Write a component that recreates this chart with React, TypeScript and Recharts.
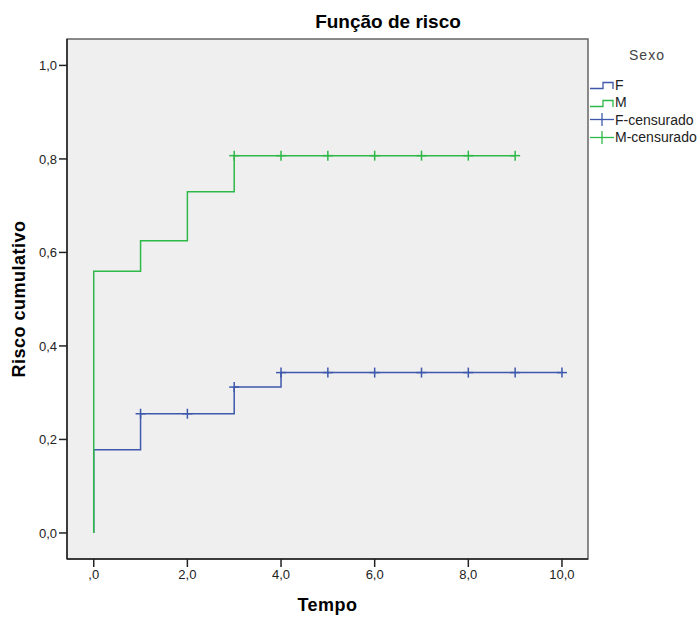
import {
  ComposedChart,
  Legend,
  Line,
  ReferenceArea,
  Scatter,
  XAxis,
  YAxis,
} from "recharts";

const FONT = "'Liberation Sans', Arial, sans-serif";
const BLUE = "#3e58ac";
const GREEN = "#2eb848";

// cumulative hazard, step points (time, risk)
const fTimes = [0, 0, 1, 3, 4, 10];
const fRisk = [0, 0.178, 0.255, 0.312, 0.343, 0.343];
const mTimes = [0, 0, 1, 2, 3, 9];
const mRisk = [0, 0.56, 0.625, 0.73, 0.807, 0.807];

// censored observations
const fCensTimes = [1, 2, 3, 4, 5, 6, 7, 8, 9, 10];
const fCensRisk = [0.255, 0.255, 0.312, 0.343, 0.343, 0.343, 0.343, 0.343, 0.343, 0.343];
const mCensTimes = [3, 4, 5, 6, 7, 8, 9];
const mCensRisk = [0.807, 0.807, 0.807, 0.807, 0.807, 0.807, 0.807];

const xTicks = [0, 2, 4, 6, 8, 10];
const yTicks = [0, 0.2, 0.4, 0.6, 0.8, 1.0];
const X_DOMAIN: [number, number] = [-0.571, 10.556];
const Y_DOMAIN: [number, number] = [-0.0557, 1.0565];

const legendItems = [
  { name: "F", color: BLUE, kind: "step" },
  { name: "M", color: GREEN, kind: "step" },
  { name: "F-censurado", color: BLUE, kind: "cross" },
  { name: "M-censurado", color: GREEN, kind: "cross" },
];

const toPoints = (ts: number[], vs: number[]) => ts.map((t, i) => ({ t, v: vs[i] }));

const fLine = toPoints(fTimes, fRisk);
const mLine = toPoints(mTimes, mRisk);
const fCens = toPoints(fCensTimes, fCensRisk);
const mCens = toPoints(mCensTimes, mCensRisk);

const fmtX = (v: number) => (v === 0 ? ",0" : v.toFixed(1).replace(".", ","));
const fmtY = (v: number) => v.toFixed(1).replace(".", ",");

const cross = (color: string) => (props: any) => {
  const { cx, cy } = props;
  return (
    <g stroke={color} strokeWidth={1.5}>
      <line x1={cx - 5} x2={cx + 5} y1={cy} y2={cy} />
      <line x1={cx} x2={cx} y1={cy - 5} y2={cy + 5} />
    </g>
  );
};

function YTitle(props: any) {
  const { viewBox } = props;
  const y = viewBox.y + viewBox.height / 2;
  return (
    <text
      x={19}
      y={y}
      transform={`rotate(-90, 19, ${y})`}
      textAnchor="middle"
      dominantBaseline="central"
      fontFamily={FONT}
      fontWeight="bold"
      fontSize={18}
      letterSpacing={0.5}
      fill="#000"
    >
      Risco cumulativo
    </text>
  );
}

function SexoLegend() {
  return (
    <div style={{ fontFamily: FONT, color: "#222", position: "relative", height: 110 }}>
      <div
        style={{
          textAlign: "center",
          fontSize: 14,
          color: "#444",
          letterSpacing: 1,
          lineHeight: "18px",
          marginLeft: 6,
        }}
      >
        Sexo
      </div>
      {legendItems.map((item, i) => (
        <div
          key={item.name}
          style={{
            position: "absolute",
            left: 2,
            top: 30 + i * 17.5,
            height: 17,
            display: "flex",
            alignItems: "center",
            fontSize: 14,
            whiteSpace: "nowrap",
          }}
        >
          <svg width={25} height={17} style={{ display: "block" }}>
            {item.kind === "step" ? (
              <path
                d="M0,12.5 H13 V6.5 H23 V13"
                fill="none"
                stroke={item.color}
                strokeWidth={1.3}
              />
            ) : (
              <g stroke={item.color} strokeWidth={1.3}>
                <line x1={0} x2={24} y1={8.5} y2={8.5} />
                <line x1={12} x2={12} y1={2} y2={15} />
              </g>
            )}
          </svg>
          <span>{item.name}</span>
        </div>
      ))}
    </div>
  );
}

export default function App() {
  return (
    <div style={{ position: "absolute", left: 0, top: 0, width: 700, height: 618, background: "#fff" }}>
      <div
        style={{
          position: "absolute",
          left: 0,
          width: 776,
          top: 11,
          textAlign: "center",
          fontFamily: FONT,
          fontWeight: "bold",
          fontSize: 19,
          lineHeight: "22px",
        }}
      >
        Função de risco
      </div>
      <ComposedChart
        width={700}
        height={618}
        margin={{ top: 39, right: 112, bottom: 29, left: 7 }}
      >
        <XAxis
          type="number"
          dataKey="t"
          domain={X_DOMAIN}
          ticks={xTicks}
          tickFormatter={fmtX}
          allowDataOverflow
          height={30}
          tickSize={8}
          tickMargin={3}
          stroke="#222"
          strokeWidth={1.5}
          tick={{ fontSize: 13, fill: "#222", fontFamily: FONT }}
          label={{
            value: "Tempo",
            position: "bottom",
            offset: 9,
            style: {
              fontFamily: FONT,
              fontWeight: "bold",
              fontSize: 18,
              letterSpacing: 0.5,
              fill: "#000",
            },
          }}
        />
        <YAxis
          type="number"
          dataKey="v"
          domain={Y_DOMAIN}
          ticks={yTicks}
          tickFormatter={fmtY}
          allowDataOverflow
          width={60}
          tickSize={8}
          tickMargin={2}
          stroke="#222"
          strokeWidth={1.5}
          tick={{ fontSize: 13, fill: "#222", fontFamily: FONT }}
          label={<YTitle />}
        />
        <ReferenceArea
          x1={X_DOMAIN[0]}
          x2={X_DOMAIN[1]}
          y1={Y_DOMAIN[0]}
          y2={Y_DOMAIN[1]}
          fill="#efefef"
          fillOpacity={1}
          stroke="#666"
          strokeWidth={1.5}
        />
        <Line
          data={fLine}
          dataKey="v"
          type="stepAfter"
          stroke={BLUE}
          strokeWidth={1.5}
          dot={false}
          isAnimationActive={false}
        />
        <Line
          data={mLine}
          dataKey="v"
          type="stepAfter"
          stroke={GREEN}
          strokeWidth={1.5}
          dot={false}
          isAnimationActive={false}
        />
        <Scatter data={fCens} dataKey="v" shape={cross(BLUE)} isAnimationActive={false} />
        <Scatter data={mCens} dataKey="v" shape={cross(GREEN)} isAnimationActive={false} />
        <Legend
          layout="horizontal"
          verticalAlign="middle"
          align="center"
          wrapperStyle={{ left: 588, top: 46, width: 112 }}
          content={() => <SexoLegend />}
        />
      </ComposedChart>
    </div>
  );
}
